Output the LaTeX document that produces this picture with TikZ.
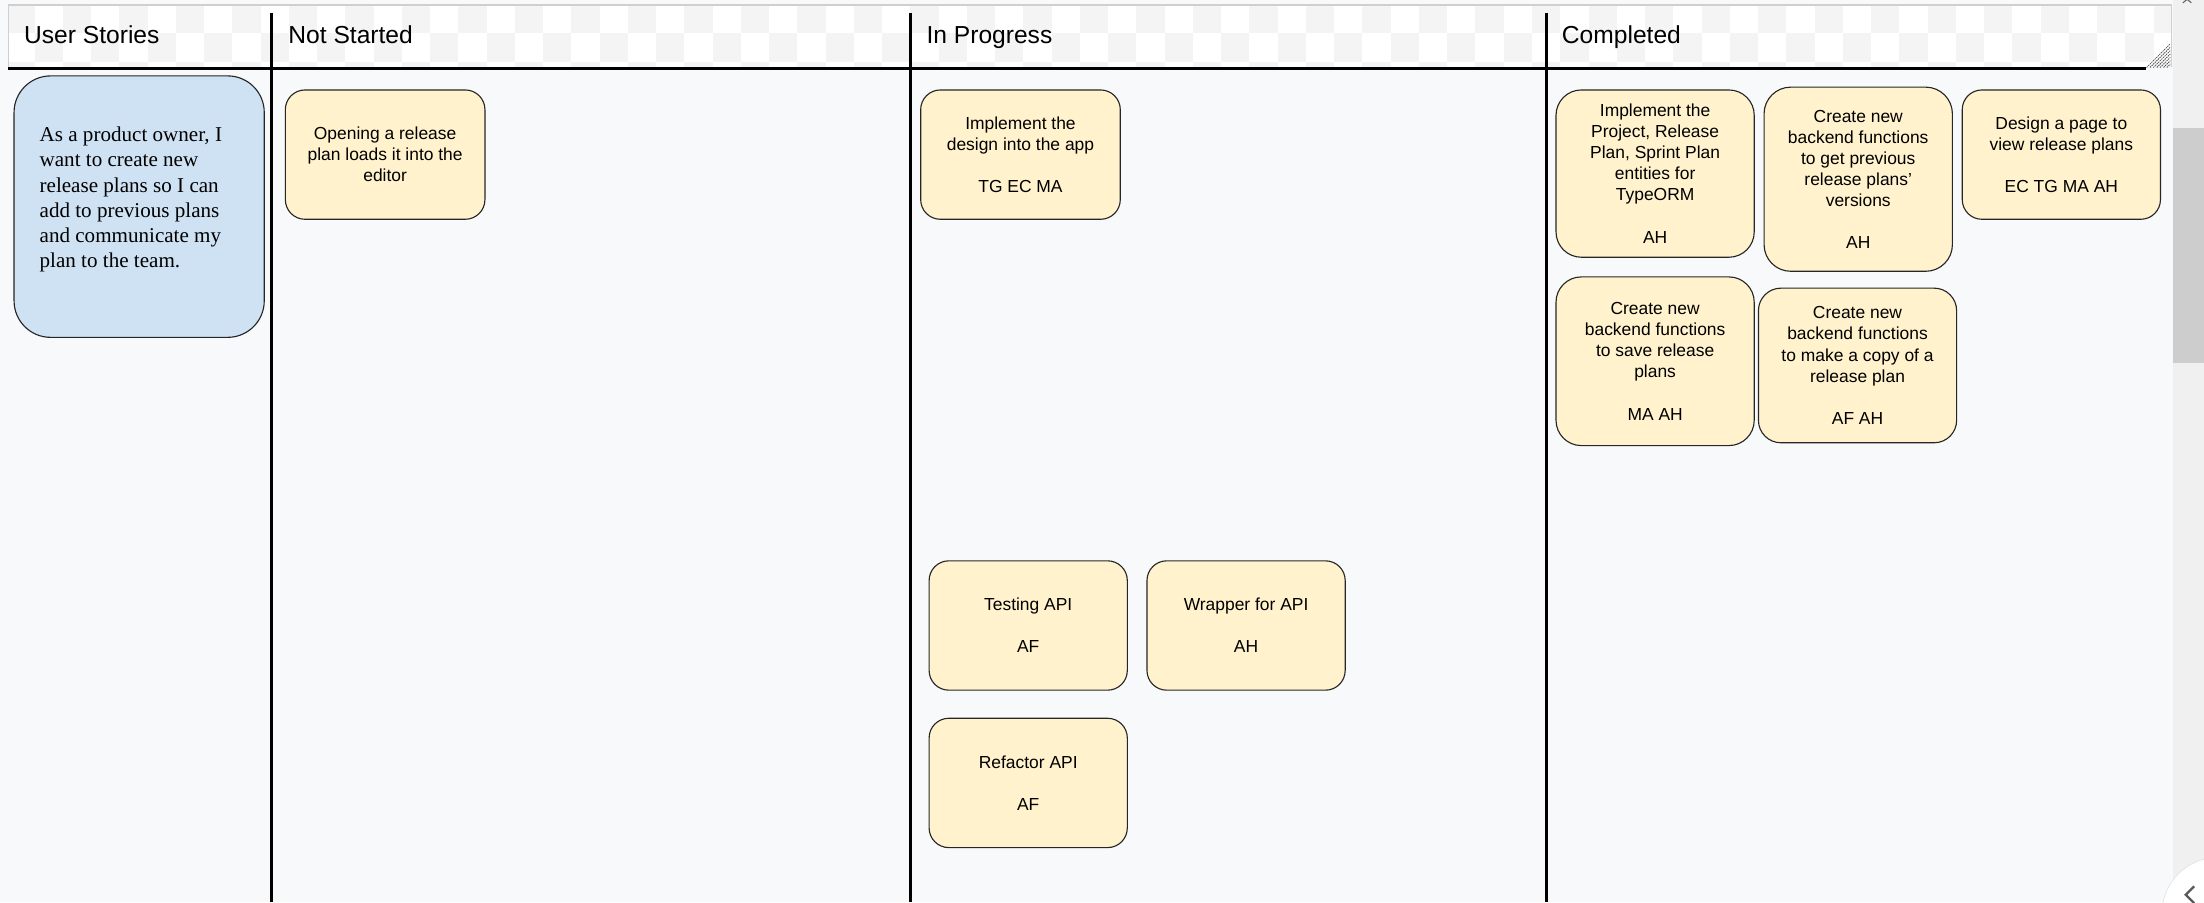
\documentclass[tikz,border=0pt]{standalone}
\usepackage{fontspec}
\setmainfont{Liberation Sans}
\newfontfamily\storyfont{Liberation Serif}
\definecolor{pagebg}{HTML}{F8F9FB}
\definecolor{checkgrey}{HTML}{F4F4F4}
\definecolor{headborder}{HTML}{CFCFCF}
\definecolor{cardyellow}{HTML}{FFF2CC}
\definecolor{storyblue}{HTML}{CFE2F3}
\definecolor{tracktone}{HTML}{F0F0F0}
\definecolor{thumbtone}{HTML}{CDCDCD}
\begin{document}
\begin{tikzpicture}[x=1pt,y=-1pt,
  card/.style={draw=black!85, line width=0.8pt, fill=cardyellow, align=center,
    inner sep=0pt, font=\fontsize{12.4}{15}\selectfont},
  story/.style={draw=black!85, line width=0.8pt, fill=storyblue, inner sep=0pt},
  coltitle/.style={anchor=base west, inner sep=0pt, font=\fontsize{17.5}{20}\selectfont},
  lane/.style={line width=2pt, black},
]
\useasboundingbox (0,0) rectangle (1568,642);
\clip (0,0) rectangle (1568,642);

% page and header band
\fill[pagebg] (0,0) rectangle (1568,642);
\fill[white] (6,3.6) rectangle (1545,48);
\begin{scope}
  \clip (6,3.6) rectangle (1545,48);
  \foreach \c in {0,...,78} {
    \foreach \r in {0,1,2} {
      \pgfmathtruncatemacro{\odd}{mod(\c+\r,2)}
      \ifnum\odd=0
        \fill[checkgrey] (4.5+20.1*\c,3.6+20.1*\r) rectangle ++(20.1,20.1);
      \fi
    }
  }
\end{scope}
\draw[headborder, line width=0.8pt] (6,48) |- (1545,3.6) -- (1545,48);

% scrollbar and window controls
\fill[tracktone] (1546,0) rectangle (1568,642);
\fill[thumbtone] (1546,91) rectangle (1568,258);
\draw[black!60, line width=0.8pt] (1553,-3) -- (1559,2) (1553,2) -- (1559,-3);
\node[circle, draw=black!12, fill=white, minimum size=80pt, inner sep=0pt] (navbtn) at (1578,650) {};
\draw[black!65, line width=1.6pt] (1561,630.5) -- (1555,636.5) -- (1561,642.5);

% swimlane rules
\draw[lane] (6,48.5) -- (1527,48.5);
\draw[lane] (193,9) -- (193,642);
\draw[lane] (648,9) -- (648,642);
\draw[lane] (1100,9) -- (1100,642);

% resize grip
\foreach \k in {1,...,7}
  \draw[black!70, line width=0.6pt, dash pattern=on 1pt off 0.6pt] ({1544-2.4*\k},48) -- (1544,{48-2.4*\k});

% column titles
\node[coltitle] (tStories) at (17,31) {User Stories};
\node[coltitle] (tNotStarted) at (205,31) {Not Started};
\node[coltitle] (tProgress) at (659,31) {In Progress};
\node[coltitle] (tDone) at (1111,31) {Completed};

% user story
\node[story, minimum width=178pt, minimum height=186pt, rounded corners=26pt] (storyCard) at (99,147) {};
\node[anchor=north west, align=left, inner sep=0pt,
  font=\storyfont\fontsize{15}{18}\selectfont] (storyText) at (28,90)
  {As a product owner, I\\want to create new\\release plans so I can\\add to previous plans\\and communicate my\\plan to the team.};

% not started
\node[card, minimum width=142pt, minimum height=92pt, rounded corners=14pt] (openPlan) at (274,110)
  {Opening a release\\plan loads it into the\\editor};

% in progress
\node[card, minimum width=142pt, minimum height=92pt, rounded corners=14pt] (implDesign) at (726,110)
  {Implement the\\design into the app\\[15pt]TG EC MA};
\node[card, minimum width=141pt, minimum height=92pt, rounded corners=14pt] (testApi) at (731.5,445)
  {Testing API\\[15pt]AF};
\node[card, minimum width=141pt, minimum height=92pt, rounded corners=14pt] (wrapApi) at (886.5,445)
  {Wrapper for API\\[15pt]AH};
\node[card, minimum width=141pt, minimum height=92pt, rounded corners=14pt] (refactorApi) at (731.5,557)
  {Refactor API\\[15pt]AF};

% completed
\node[card, minimum width=141pt, minimum height=119pt, rounded corners=18pt] (entities) at (1177.5,123.5)
  {Implement the\\Project, Release\\Plan, Sprint Plan\\entities for\\TypeORM\\[15pt]AH};
\node[card, minimum width=134pt, minimum height=131pt, rounded corners=19pt] (getVersions) at (1322,127.5)
  {Create new\\backend functions\\to get previous\\release plans’\\versions\\[15pt]AH};
\node[card, minimum width=141pt, minimum height=92pt, rounded corners=14pt] (viewPage) at (1466.5,110)
  {Design a page to\\view release plans\\[15pt]EC TG MA AH};
\node[card, minimum width=141pt, minimum height=120pt, rounded corners=18pt] (savePlans) at (1177.5,257)
  {Create new\\backend functions\\to save release\\plans\\[15pt]MA AH};
\node[card, minimum width=141pt, minimum height=110pt, rounded corners=16pt] (copyPlan) at (1321.5,260)
  {Create new\\backend functions\\to make a copy of a\\release plan\\[15pt]AF AH};
\end{tikzpicture}
\end{document}
